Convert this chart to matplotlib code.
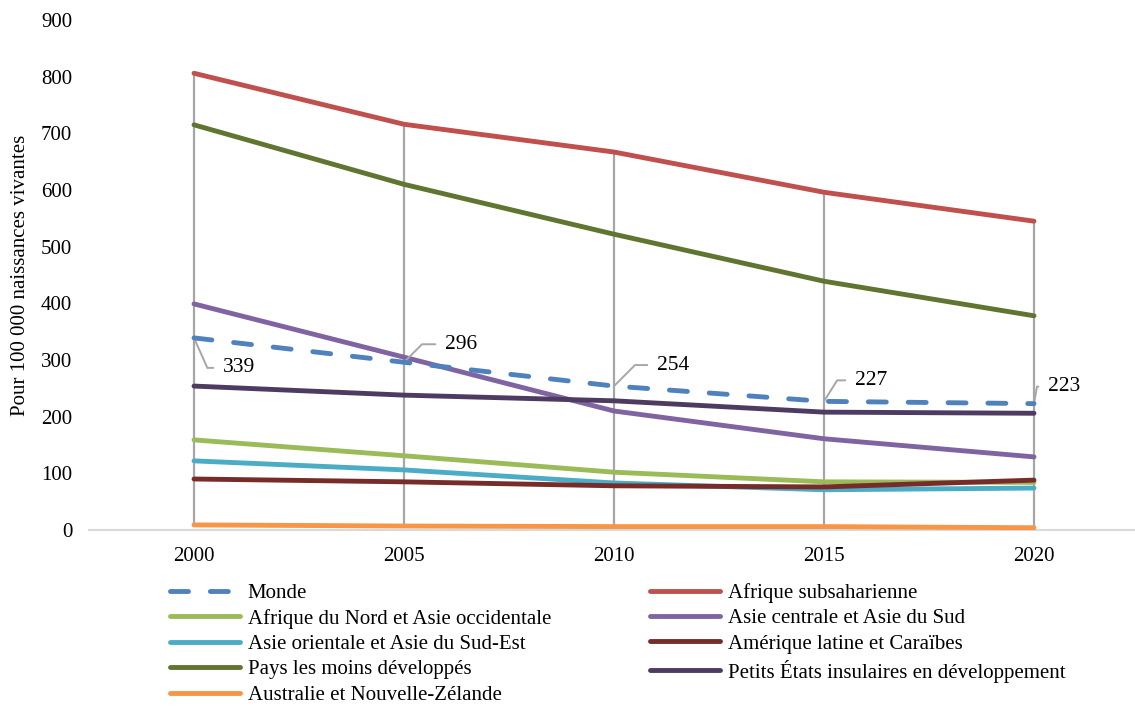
import numpy as np
import matplotlib.pyplot as plt

plt.rcParams['font.family'] = ['Liberation Serif', 'DejaVu Serif']

years = ["2000", "2005", "2010", "2015", "2020"]

monde = [339, 296, 254, 227, 223]
afrique_subsaharienne = [806, 716, 667, 596, 545]
afrique_nord_asie_occ = [159, 131, 102, 85, 84]
asie_centrale_sud = [399, 305, 210, 161, 129]
asie_orientale_sud_est = [122, 106, 83, 71, 74]
amerique_latine = [90, 85, 78, 76, 88]
pays_moins_dev = [715, 610, 522, 439, 378]
petits_etats = [254, 238, 228, 208, 206]
australie_nz = [9, 7, 6, 6, 4]

series = [
    ("Monde", monde, "#4F81BD"),
    ("Afrique subsaharienne", afrique_subsaharienne, "#C0504D"),
    ("Afrique du Nord et Asie occidentale", afrique_nord_asie_occ, "#9BBB59"),
    ("Asie centrale et Asie du Sud", asie_centrale_sud, "#8064A2"),
    ("Asie orientale et Asie du Sud-Est", asie_orientale_sud_est, "#4BACC6"),
    ("Amérique latine et Caraïbes", amerique_latine, "#772C2A"),
    ("Pays les moins développés", pays_moins_dev, "#5F7530"),
    ("Petits États insulaires en développement", petits_etats, "#4D3B62"),
    ("Australie et Nouvelle-Zélande", australie_nz, "#F79646"),
]

fig = plt.figure(figsize=(11.35, 7.07), dpi=100)
ax = fig.add_axes([89 / 1135, 177 / 707, 1050 / 1135, 510 / 707])

x = np.arange(len(years))

# high-low lines
allv = np.array([s[1] for s in series])
ax.vlines(x, allv.min(axis=0), allv.max(axis=0), color="#A6A6A6", lw=1.6, zorder=1)

handles = {}
for name, vals, col in series:
    if name == "Monde":
        ln, = ax.plot(x, vals, color=col, lw=3.5, dashes=(3.7, 4.5),
                      dash_capstyle="round", zorder=5, label=name)
    else:
        ln, = ax.plot(x, vals, color=col, lw=3.5, solid_capstyle="round",
                      zorder=3, label=name)
    handles[name] = ln

# data labels for Monde with leader lines (offset in pixels, leader angle)
offsets = [(29, -30, -66), (41, 18, 45), (43, 21, 45), (31, 21, 58), (14, 17, 80)]
for i, v in enumerate(monde):
    dx, dy, ang = offsets[i]
    ax.annotate(str(v), xy=(x[i], v), xytext=(dx, dy), textcoords="offset pixels",
                ha="left", va="center", fontsize=15.5,
                arrowprops=dict(arrowstyle="-", color="#A6A6A6", lw=1.4,
                                relpos=(0, 0.5), shrinkA=5, shrinkB=0,
                                connectionstyle="angle,angleA=0,angleB=%d,rad=0" % ang))

ax.set_xlim(-0.5, 4.5)
ax.set_ylim(0, 900)
ax.set_xticks(x)
ax.set_xticklabels(years)
ax.set_yticks(range(0, 901, 100))
ax.tick_params(length=0, labelsize=15)
ax.tick_params(axis="y", pad=12)
ax.tick_params(axis="x", pad=12)
for s in ["top", "right", "left"]:
    ax.spines[s].set_visible(False)
ax.spines["bottom"].set_color("#D9D9D9")
ax.spines["bottom"].set_linewidth(1.5)
ax.set_ylabel("Pour 100 000 naissances vivantes", fontsize=15, labelpad=8)

order = ["Monde", "Afrique du Nord et Asie occidentale", "Asie orientale et Asie du Sud-Est",
         "Pays les moins développés", "Australie et Nouvelle-Zélande",
         "Afrique subsaharienne", "Asie centrale et Asie du Sud",
         "Amérique latine et Caraïbes", "Petits États insulaires en développement"]
fig.legend([handles[n] for n in order], order, ncol=2, loc="upper left",
           bbox_to_anchor=(170 / 1135, 1 - 583 / 707), frameon=False, fontsize=15,
           handlelength=3.35, handletextpad=0.38, columnspacing=4.75,
           labelspacing=0.28, borderaxespad=0, borderpad=0)

fig.savefig("out.png", dpi=100)
